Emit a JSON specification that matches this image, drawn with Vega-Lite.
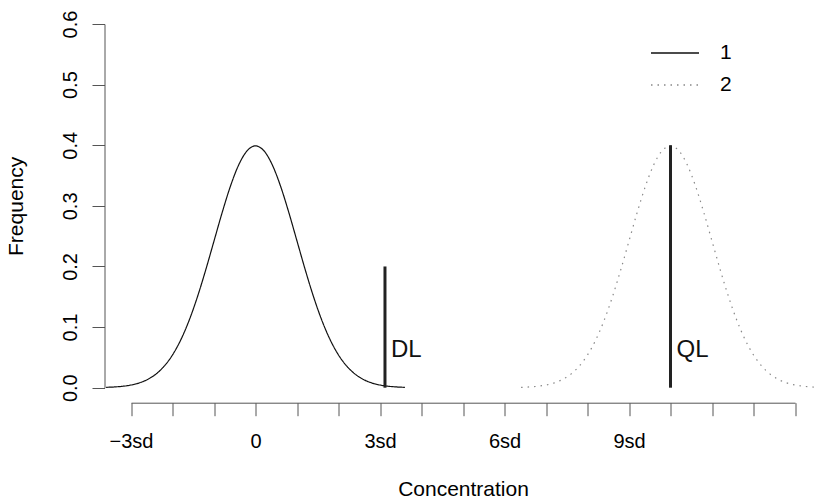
{
  "$schema": "https://vega.github.io/schema/vega-lite/v6.json",
  "autosize": {"type": "none"},
  "padding": {"left": 104.5, "top": 24, "right": 0, "bottom": 112.3},
  "width": 712.5,
  "height": 363.7,
  "background": "white",
  "config": {
    "font": "Liberation Sans",
    "view": {"stroke": null},
    "axis": {"grid": false, "domainColor": "#555", "tickColor": "#555", "labelColor": "#000", "titleColor": "#000", "titleFontWeight": "normal", "domainWidth": 1, "tickWidth": 1}
  },
  "datasets": {
    "curves": [
      {"series": "1", "x": -3.6, "y": 0.00061}, {"series": "1", "x": -3.4, "y": 0.00123}, {"series": "1", "x": -3.2, "y": 0.00238},
      {"series": "1", "x": -3.0, "y": 0.00443}, {"series": "1", "x": -2.8, "y": 0.00792}, {"series": "1", "x": -2.6, "y": 0.01358},
      {"series": "1", "x": -2.4, "y": 0.02239}, {"series": "1", "x": -2.2, "y": 0.03547}, {"series": "1", "x": -2.0, "y": 0.05399},
      {"series": "1", "x": -1.8, "y": 0.07895}, {"series": "1", "x": -1.6, "y": 0.11092}, {"series": "1", "x": -1.4, "y": 0.14973},
      {"series": "1", "x": -1.2, "y": 0.19419}, {"series": "1", "x": -1.0, "y": 0.24197}, {"series": "1", "x": -0.8, "y": 0.28969},
      {"series": "1", "x": -0.6, "y": 0.33322}, {"series": "1", "x": -0.4, "y": 0.36827}, {"series": "1", "x": -0.2, "y": 0.39104},
      {"series": "1", "x": 0.0, "y": 0.39894},
      {"series": "1", "x": 0.2, "y": 0.39104}, {"series": "1", "x": 0.4, "y": 0.36827}, {"series": "1", "x": 0.6, "y": 0.33322},
      {"series": "1", "x": 0.8, "y": 0.28969}, {"series": "1", "x": 1.0, "y": 0.24197}, {"series": "1", "x": 1.2, "y": 0.19419},
      {"series": "1", "x": 1.4, "y": 0.14973}, {"series": "1", "x": 1.6, "y": 0.11092}, {"series": "1", "x": 1.8, "y": 0.07895},
      {"series": "1", "x": 2.0, "y": 0.05399}, {"series": "1", "x": 2.2, "y": 0.03547}, {"series": "1", "x": 2.4, "y": 0.02239},
      {"series": "1", "x": 2.6, "y": 0.01358}, {"series": "1", "x": 2.8, "y": 0.00792}, {"series": "1", "x": 3.0, "y": 0.00443},
      {"series": "1", "x": 3.2, "y": 0.00238}, {"series": "1", "x": 3.4, "y": 0.00123}, {"series": "1", "x": 3.6, "y": 0.00061},
      {"series": "2", "x": 6.4, "y": 0.00061}, {"series": "2", "x": 6.6, "y": 0.00123}, {"series": "2", "x": 6.8, "y": 0.00238},
      {"series": "2", "x": 7.0, "y": 0.00443}, {"series": "2", "x": 7.2, "y": 0.00792}, {"series": "2", "x": 7.4, "y": 0.01358},
      {"series": "2", "x": 7.6, "y": 0.02239}, {"series": "2", "x": 7.8, "y": 0.03547}, {"series": "2", "x": 8.0, "y": 0.05399},
      {"series": "2", "x": 8.2, "y": 0.07895}, {"series": "2", "x": 8.4, "y": 0.11092}, {"series": "2", "x": 8.6, "y": 0.14973},
      {"series": "2", "x": 8.8, "y": 0.19419}, {"series": "2", "x": 9.0, "y": 0.24197}, {"series": "2", "x": 9.2, "y": 0.28969},
      {"series": "2", "x": 9.4, "y": 0.33322}, {"series": "2", "x": 9.6, "y": 0.36827}, {"series": "2", "x": 9.8, "y": 0.39104},
      {"series": "2", "x": 10.0, "y": 0.39894},
      {"series": "2", "x": 10.2, "y": 0.39104}, {"series": "2", "x": 10.4, "y": 0.36827}, {"series": "2", "x": 10.6, "y": 0.33322},
      {"series": "2", "x": 10.8, "y": 0.28969}, {"series": "2", "x": 11.0, "y": 0.24197}, {"series": "2", "x": 11.2, "y": 0.19419},
      {"series": "2", "x": 11.4, "y": 0.14973}, {"series": "2", "x": 11.6, "y": 0.11092}, {"series": "2", "x": 11.8, "y": 0.07895},
      {"series": "2", "x": 12.0, "y": 0.05399}, {"series": "2", "x": 12.2, "y": 0.03547}, {"series": "2", "x": 12.4, "y": 0.02239},
      {"series": "2", "x": 12.6, "y": 0.01358}, {"series": "2", "x": 12.8, "y": 0.00792}, {"series": "2", "x": 13.0, "y": 0.00443},
      {"series": "2", "x": 13.2, "y": 0.00238}, {"series": "2", "x": 13.4, "y": 0.00123}, {"series": "2", "x": 13.6, "y": 0.00061}
    ],
    "rules": [
      {"x": 3.12, "y": 0, "y2": 0.2},
      {"x": 10, "y": 0, "y2": 0.4}
    ],
    "labels": [
      {"x": 3.12, "y": 0.05, "label": "DL"},
      {"x": 10, "y": 0.05, "label": "QL"}
    ]
  },
  "layer": [
    {
      "data": {"name": "curves"},
      "mark": {"type": "line", "strokeWidth": 1.2, "interpolate": "monotone"},
      "encoding": {
        "x": {
          "field": "x", "type": "quantitative",
          "scale": {"domain": [-3, 13], "range": [26.5, 690.5], "nice": false, "zero": false},
          "axis": {
            "values": [-3, -2, -1, 0, 1, 2, 3, 4, 5, 6, 7, 8, 9, 10, 11, 12, 13],
            "labelExpr": "datum.value == -3 ? '−3sd' : datum.value == 0 ? '0' : datum.value == 3 ? '3sd' : datum.value == 6 ? '6sd' : datum.value == 9 ? '9sd' : ''",
            "labelOverlap": false, "labelFlush": false,
            "offset": 15, "tickSize": 13, "labelPadding": 32, "labelBaseline": "alphabetic",
            "labelFontSize": 20,
            "title": "Concentration", "titleFontSize": 21, "titleY": 93, "titleBaseline": "alphabetic"
          }
        },
        "y": {
          "field": "y", "type": "quantitative",
          "scale": {"domain": [0, 0.6], "nice": false},
          "axis": {
            "values": [0, 0.1, 0.2, 0.3, 0.4, 0.5, 0.6],
            "format": ".1f",
            "labelAngle": 270, "labelAlign": "center", "labelBaseline": "alphabetic",
            "labelPadding": 16, "tickSize": 12.5, "labelFontSize": 20,
            "title": "Frequency", "titleFontSize": 21, "titleAngle": 270,
            "titleX": -82.5, "titleY": 181.85, "titleAlign": "center", "titleBaseline": "alphabetic"
          }
        },
        "strokeDash": {
          "field": "series", "type": "nominal",
          "scale": {"domain": ["1", "2"], "range": [[1, 0], [1.5, 5]]},
          "legend": {"title": null, "orient": "none", "legendX": 545.5, "legendY": 19, "symbolType": "stroke", "symbolSize": 2304, "clipHeight": 20, "rowPadding": 11, "labelOffset": 20, "labelFontSize": 21, "labelColor": "#000", "padding": 0, "symbolStrokeWidth": 1.3}
        },
        "color": {
          "field": "series", "type": "nominal",
          "scale": {"domain": ["1", "2"], "range": ["#111111", "#888888"]},
          "legend": {"title": null, "orient": "none", "legendX": 545.5, "legendY": 19, "symbolType": "stroke", "symbolSize": 2304, "clipHeight": 20, "rowPadding": 11, "labelOffset": 20, "labelFontSize": 21, "labelColor": "#000", "padding": 0, "symbolStrokeWidth": 1.3}
        }
      }
    },
    {
      "data": {"name": "rules"},
      "mark": {"type": "rule", "strokeWidth": 3, "color": "#222222"},
      "encoding": {
        "x": {"field": "x", "type": "quantitative"},
        "y": {"field": "y", "type": "quantitative"},
        "y2": {"field": "y2"}
      }
    },
    {
      "data": {"name": "labels"},
      "mark": {"type": "text", "align": "left", "baseline": "alphabetic", "dx": 6, "fontSize": 24, "color": "#111111"},
      "encoding": {
        "x": {"field": "x", "type": "quantitative"},
        "y": {"field": "y", "type": "quantitative"},
        "text": {"field": "label"}
      }
    }
  ]
}
